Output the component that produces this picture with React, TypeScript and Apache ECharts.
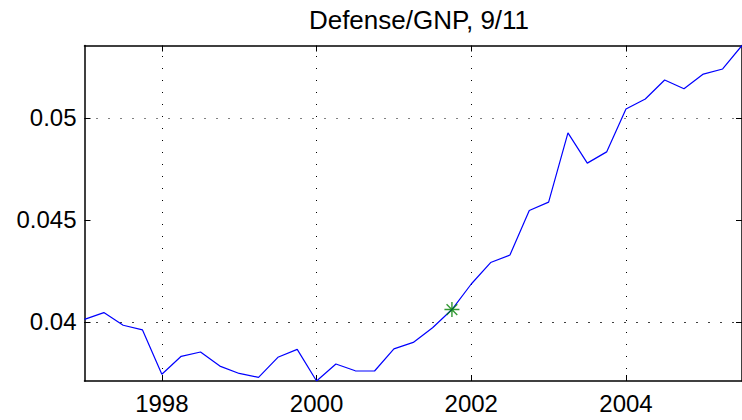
import React, { useEffect, useRef } from "react";
import * as echarts from "echarts";

const years = [
  1997.0, 1997.25, 1997.5, 1997.75, 1998.0, 1998.25, 1998.5, 1998.75,
  1999.0, 1999.25, 1999.5, 1999.75, 2000.0, 2000.25, 2000.5, 2000.75,
  2001.0, 2001.25, 2001.5, 2001.75, 2002.0, 2002.25, 2002.5, 2002.75,
  2003.0, 2003.25, 2003.5, 2003.75, 2004.0, 2004.25, 2004.5, 2004.75,
  2005.0, 2005.25, 2005.5,
];
const defenseGnp = [
  0.04013, 0.04046, 0.03984, 0.03961, 0.03744, 0.03832, 0.03853, 0.03784,
  0.03748, 0.03729, 0.03827, 0.03866, 0.03711, 0.03794, 0.03761, 0.0376,
  0.03868, 0.039, 0.03972, 0.04061, 0.04186, 0.04291, 0.04328, 0.04546,
  0.04587, 0.04926, 0.04778, 0.04833, 0.05043, 0.05092, 0.05185, 0.05142,
  0.05214, 0.05239, 0.05354,
];
const eventX = [2001.75];
const eventY = [0.04061];
const xTicks = [1998, 2000, 2002, 2004];
const yTicks = [0.04, 0.045, 0.05];
const yTickLabels = ["0.04", "0.045", "0.05"];
const titleText = "Defense/GNP, 9/11";

const FONT = '"Liberation Sans", Arial, Helvetica, sans-serif';

export default function App() {
  const ref = useRef<HTMLDivElement>(null);
  useEffect(() => {
    if (!ref.current) return;
    const chart = echarts.init(ref.current, undefined, { renderer: "svg" });
    const xMin = years[0];
    const xMax = years[years.length - 1];
    const yMin = Math.min(...defenseGnp);
    const yMax = Math.max(...defenseGnp);
    const axisLine = { show: true, lineStyle: { color: "#000", width: 1.5 } };
    const tick = (vals: number[]) => ({
      show: true,
      inside: true,
      length: 6,
      customValues: vals,
      lineStyle: { color: "#000", width: 1 },
    });
    const gridDots = { color: "#000", width: 1, type: [1, 11] as any };
    chart.setOption({
      animation: false,
      backgroundColor: "#fff",
      title: {
        text: titleText,
        left: 414,
        textAlign: "center",
        top: 2,
        textStyle: { fontFamily: FONT, fontSize: 26, fontWeight: "normal", color: "#000" },
      },
      grid: { left: 84.5, right: -2.5, top: 45.5, bottom: 39, containLabel: false },
      xAxis: [
        {
          type: "value",
          min: xMin,
          max: xMax,
          position: "bottom",
          axisLine,
          axisTick: tick(xTicks),
          axisLabel: {
            customValues: xTicks,
            margin: 10,
            fontFamily: FONT,
            fontSize: 24,
            color: "#000",
            formatter: (v: number) => String(Math.round(v)),
          },
          splitLine: { show: false },
        },
        {
          type: "value",
          min: xMin,
          max: xMax,
          position: "top",
          axisLine,
          axisTick: tick(xTicks),
          axisLabel: { show: false },
          splitLine: { show: false },
        },
      ],
      yAxis: [
        {
          type: "value",
          min: yMin,
          max: yMax,
          position: "left",
          axisLine,
          axisTick: tick(yTicks),
          axisLabel: {
            customValues: yTicks,
            margin: 8,
            fontFamily: FONT,
            fontSize: 24,
            color: "#000",
            formatter: (v: number) => {
              const i = yTicks.findIndex((t) => Math.abs(t - v) < 1e-9);
              return i >= 0 ? yTickLabels[i] : "";
            },
          },
          splitLine: { show: false },
        },
        {
          type: "value",
          min: yMin,
          max: yMax,
          position: "right",
          axisLine,
          axisTick: tick(yTicks),
          axisLabel: { show: false },
          splitLine: { show: false },
        },
      ],
      series: [
        {
          type: "line",
          xAxisIndex: 0,
          yAxisIndex: 0,
          data: years.map((x, i) => [x, defenseGnp[i]]),
          showSymbol: false,
          symbol: "none",
          lineStyle: { color: "#0000ff", width: 1.2 },
          z: 3,
          markLine: {
            silent: true,
            symbol: "none",
            label: { show: false },
            lineStyle: gridDots,
            data: [
              ...xTicks.map((v) => ({ xAxis: v })),
              ...yTicks.map((v) => ({ yAxis: v })),
            ],
            z: 1,
          },
        },
        {
          type: "scatter",
          xAxisIndex: 0,
          yAxisIndex: 0,
          data: eventX.map((x, i) => [x, eventY[i]]),
          symbol: "path://M0,-7L0,7M-7,0L7,0M-5,-5L5,5M-5,5L5,-5",
          symbolSize: 15,
          itemStyle: { color: "none", borderColor: "#008000", borderWidth: 1.4 },
          z: 4,
        },
      ],
    });
    return () => chart.dispose();
  }, []);
  return (
    <div
      ref={ref}
      style={{ position: "fixed", left: 0, top: 0, width: 742, height: 420, background: "#fff" }}
    />
  );
}
